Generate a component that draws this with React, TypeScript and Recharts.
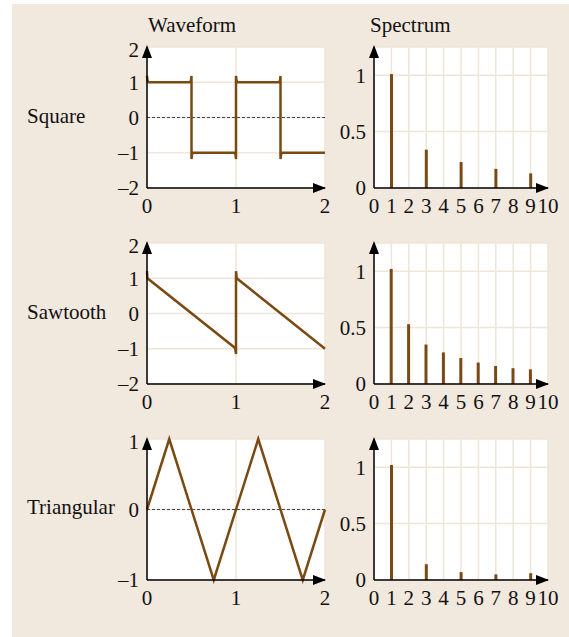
import {
  LineChart,
  Line,
  BarChart,
  Bar,
  XAxis,
  YAxis,
  CartesianGrid,
  ReferenceLine,
  ReferenceDot,
} from "recharts";

const FONT = "'Liberation Serif', 'Times New Roman', serif";
const BROWN = "#7a4a12";
const GRID = "#efe5d9";
const BEIGE = "#f1e8de";

// time axis (periods) and harmonic axis
const timeTicks = [0, 1, 2];
const harmonicTicks = [0, 1, 2, 3, 4, 5, 6, 7, 8, 9, 10];
const ampTicks = [0, 0.5, 1];
const wideTicks = [-2, -1, 0, 1, 2];
const unitTicks = [-1, 0, 1];

const rowNames = ["Square", "Sawtooth", "Triangular"];

// waveforms, with the small overshoot at every jump
const squareWave = [
  { t: 0, v: 1.18 },
  { t: 0.005, v: 1.06 },
  { t: 0.015, v: 1.0 },
  { t: 0.485, v: 1.0 },
  { t: 0.495, v: 1.06 },
  { t: 0.5, v: 1.18 },
  { t: 0.5, v: -1.18 },
  { t: 0.505, v: -1.06 },
  { t: 0.515, v: -1.0 },
  { t: 0.985, v: -1.0 },
  { t: 0.995, v: -1.06 },
  { t: 1.0, v: -1.18 },
  { t: 1.0, v: 1.18 },
  { t: 1.005, v: 1.06 },
  { t: 1.015, v: 1.0 },
  { t: 1.485, v: 1.0 },
  { t: 1.495, v: 1.06 },
  { t: 1.5, v: 1.18 },
  { t: 1.5, v: -1.18 },
  { t: 1.505, v: -1.06 },
  { t: 1.515, v: -1.0 },
  { t: 2.0, v: -1.0 },
];

const sawWave = [
  { t: 0, v: 1.2 },
  { t: 0.005, v: 1.0 },
  { t: 0.99, v: -0.98 },
  { t: 1.0, v: -1.15 },
  { t: 1.0, v: 1.2 },
  { t: 1.008, v: 1.0 },
  { t: 2.0, v: -1.0 },
];

const triWave = [
  { t: 0, v: 0 },
  { t: 0.25, v: 1 },
  { t: 0.75, v: -1 },
  { t: 1.25, v: 1 },
  { t: 1.75, v: -1 },
  { t: 2, v: 0 },
];

// harmonic amplitudes
const squareSpectrum = [
  { k: 1, a: 1.01 },
  { k: 3, a: 0.34 },
  { k: 5, a: 0.23 },
  { k: 7, a: 0.17 },
  { k: 9, a: 0.13 },
];

const sawSpectrum = [
  { k: 1, a: 1.02 },
  { k: 2, a: 0.53 },
  { k: 3, a: 0.35 },
  { k: 4, a: 0.28 },
  { k: 5, a: 0.23 },
  { k: 6, a: 0.19 },
  { k: 7, a: 0.16 },
  { k: 8, a: 0.14 },
  { k: 9, a: 0.13 },
];

const triSpectrum = [
  { k: 1, a: 1.02 },
  { k: 3, a: 0.14 },
  { k: 5, a: 0.07 },
  { k: 7, a: 0.05 },
  { k: 9, a: 0.06 },
];

const fmt = (v: number) => (v < 0 ? `\u2013${-v}` : String(v));
const tickStyle = { fill: "#111", fontSize: 21, fontFamily: FONT };

const ArrowUp = (p: any) => (
  <path
    d={`M${p.cx},${p.cy - 2} L${p.cx - 5},${p.cy + 11} L${p.cx + 5},${p.cy + 11} Z`}
    fill="#000"
  />
);

const ArrowRight = (p: any) => (
  <path
    d={`M${p.cx + 1},${p.cy} L${p.cx - 12},${p.cy - 5} L${p.cx - 12},${p.cy + 5} Z`}
    fill="#000"
  />
);

const ROW_GAP = 196;

type WaveProps = {
  row: number;
  data: { t: number; v: number }[];
  yTicks: number[];
  dashedZero?: boolean;
};

function Waveform({ row, data, yTicks, dashedZero }: WaveProps) {
  const yMin = yTicks[0];
  const yMax = yTicks[yTicks.length - 1];
  return (
    <div style={{ position: "absolute", left: 100, top: row * ROW_GAP + 37 }}>
      <LineChart
        width={240}
        height={181}
        data={data}
        margin={{ top: 10, right: 15, bottom: 0, left: 0 }}
        style={{ overflow: "visible" }}
      >
        <CartesianGrid stroke={GRID} strokeWidth={1.5} fill="#fff" fillOpacity={1} />
        {dashedZero && (
          <ReferenceLine y={0} stroke="#444" strokeDasharray="3 2" strokeWidth={1} />
        )}
        <XAxis
          type="number"
          dataKey="t"
          domain={[0, 2]}
          ticks={timeTicks}
          tickLine={false}
          tickMargin={4}
          axisLine={{ stroke: "#000", strokeWidth: 1.5 }}
          tick={tickStyle}
          height={30}
        />
        <YAxis
          type="number"
          domain={[yMin, yMax]}
          ticks={yTicks}
          tickLine={false}
          tickFormatter={fmt}
          axisLine={{ stroke: "#000", strokeWidth: 1.5 }}
          tick={tickStyle}
          width={47}
        />
        <Line
          type="linear"
          dataKey="v"
          stroke={BROWN}
          strokeWidth={2.5}
          dot={false}
          isAnimationActive={false}
        />
        <ReferenceDot x={0} y={yMax} r={0} shape={ArrowUp} />
        <ReferenceDot x={2} y={yMin} r={0} shape={ArrowRight} />
      </LineChart>
    </div>
  );
}

type SpecProps = { row: number; data: { k: number; a: number }[] };

function Spectrum({ row, data }: SpecProps) {
  return (
    <div style={{ position: "absolute", left: 330, top: row * ROW_GAP + 37 }}>
      <BarChart
        width={233}
        height={181}
        data={data}
        margin={{ top: 10, right: 15, bottom: 0, left: 0 }}
        style={{ overflow: "visible" }}
      >
        <CartesianGrid stroke={GRID} strokeWidth={1.5} fill="#fff" fillOpacity={1} />
        <XAxis
          type="number"
          dataKey="k"
          domain={[0, 10]}
          ticks={harmonicTicks}
          interval={0}
          tickLine={false}
          tickMargin={4}
          axisLine={{ stroke: "#000", strokeWidth: 1.5 }}
          tick={tickStyle}
          height={30}
        />
        <YAxis
          type="number"
          domain={[0, 1.25]}
          ticks={ampTicks}
          tickLine={false}
          axisLine={{ stroke: "#000", strokeWidth: 1.5 }}
          tick={tickStyle}
          width={44}
        />
        <Bar dataKey="a" fill={BROWN} barSize={3} isAnimationActive={false} />
        <ReferenceDot x={0} y={1.25} r={0} shape={ArrowUp} />
        <ReferenceDot x={10} y={0} r={0} shape={ArrowRight} />
      </BarChart>
    </div>
  );
}

const labelStyle = {
  position: "absolute" as const,
  fontFamily: FONT,
  fontSize: 21,
  lineHeight: "21px",
  color: "#111",
  whiteSpace: "nowrap" as const,
};

export default function App() {
  return (
    <div
      style={{
        position: "absolute",
        left: 0,
        top: 0,
        width: 569,
        height: 637,
        background: "#fff",
        overflow: "hidden",
      }}
    >
      <div
        style={{
          position: "absolute",
          left: 12,
          top: 4,
          width: 557,
          height: 633,
          background: BEIGE,
        }}
      />
      <div style={{ ...labelStyle, left: 148, top: 15 }}>Waveform</div>
      <div style={{ ...labelStyle, left: 370, top: 15 }}>Spectrum</div>
      {rowNames.map((name, i) => (
        <div key={name} style={{ ...labelStyle, left: 27, top: [106, 302, 497][i] }}>
          {name}
        </div>
      ))}
      <Waveform row={0} data={squareWave} yTicks={wideTicks} dashedZero />
      <Waveform row={1} data={sawWave} yTicks={wideTicks} />
      <Waveform row={2} data={triWave} yTicks={unitTicks} dashedZero />
      <Spectrum row={0} data={squareSpectrum} />
      <Spectrum row={1} data={sawSpectrum} />
      <Spectrum row={2} data={triSpectrum} />
    </div>
  );
}
